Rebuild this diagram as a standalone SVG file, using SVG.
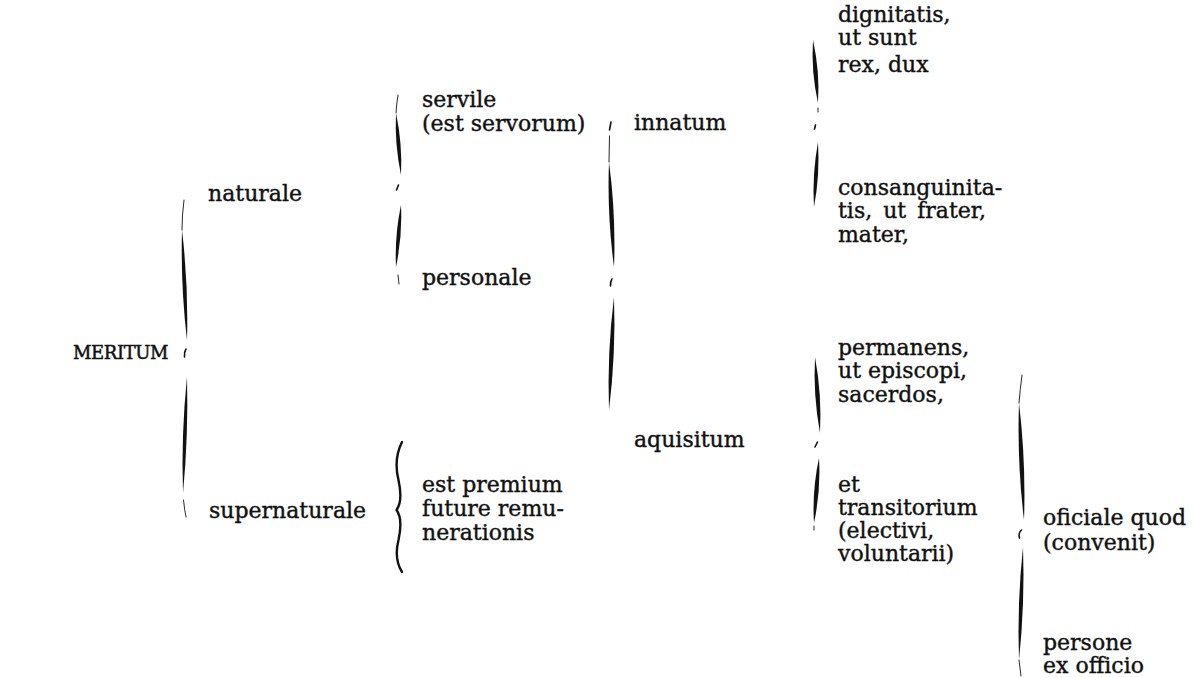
<svg xmlns="http://www.w3.org/2000/svg" width="1196" height="678" viewBox="0 0 1196 678">
<style>
text{font-family:"DejaVu Serif","Liberation Serif",serif;font-size:22px;fill:#111;stroke:#111;stroke-width:0.4}
.caps{font-size:18px;letter-spacing:-0.4px;stroke-width:0.5}
.lens{fill:#111;stroke:none}
.thin{fill:none;stroke:#111;stroke-width:0.9;stroke-linecap:round}
.tip{fill:none;stroke:#111;stroke-width:1.6;stroke-linecap:round}
.curly{fill:none;stroke:#111;stroke-width:2.4;stroke-linecap:round;stroke-linejoin:round}
</style>
<rect width="1196" height="678" fill="#fff"/>
<g id="connectors">
  <g id="brace-meritum">
    <path class="thin" d="M184,200 Q182,215 182,230"/>
    <path class="lens" d="M182,230 Q180.5,285 187,340 Q188.5,285 182,230 Z"/>
    <path class="tip" d="M186,349 Q184,352 184.5,357"/>
    <path class="lens" d="M187,377 Q188.5,435 183,493 Q181,435 187,377 Z"/>
    <path class="thin" d="M183.5,500 Q184.5,510 186,517"/>
  </g>
  <g id="brace-naturale">
    <path class="thin" d="M398,95 Q396.5,104 396,113"/>
    <path class="lens" d="M396,113 Q394.5,144 401,175 Q402.5,144 396,113 Z"/>
    <path class="tip" d="M398.5,185 L396.5,190"/>
    <path class="lens" d="M401,205 Q402.5,236 396,267 Q394.5,236 401,205 Z"/>
    <path class="thin" d="M398,275 L399,284"/>
  </g>
  <g id="brace-supernaturale">
    <path class="curly" d="M402,442 C397,452 395,466 398.5,480 C401.5,494 401,504 396.5,510 C401,516 401.5,526 398.5,540 C395,554 397,564 402,572"/>
  </g>
  <g id="brace-personale">
    <path class="tip" d="M611,122 L609.5,130"/>
    <path class="thin" d="M609.5,136 L609,162"/>
    <path class="lens" d="M609,162 Q607,215 614,267 Q616,215 609,162 Z"/>
    <path class="tip" d="M612,279 Q610,282 610.5,286"/>
    <path class="lens" d="M614,297 Q616,353 609,410 Q607,353 614,297 Z"/>
  </g>
  <g id="brace-innatum">
    <path class="lens" d="M813,40 Q811,72 818,103 Q820,72 813,40 Z"/>
    <path class="thin" d="M818,108 L818,112"/>
    <path class="tip" d="M815.5,125 L814.5,129"/>
    <path class="lens" d="M818,142 Q820,175 814,207 Q812,175 818,142 Z"/>
  </g>
  <g id="brace-aquisitum">
    <path class="lens" d="M815,357 Q813,395 820,433 Q822,395 815,357 Z"/>
    <path class="tip" d="M817.5,442 L815,447"/>
    <path class="lens" d="M819,458 Q821,490 814,523 Q812,490 819,458 Z"/>
    <path class="thin" d="M814,526 L814,530"/>
  </g>
  <g id="brace-transitorium">
    <path class="thin" d="M1022,375 Q1020,390 1019,403"/>
    <path class="lens" d="M1019,403 Q1017,462 1024,520 Q1026,462 1019,403 Z"/>
    <path class="tip" d="M1021.5,530 Q1018,533 1019.5,538"/>
    <path class="lens" d="M1023,547 Q1025,603 1019,660 Q1017,603 1023,547 Z"/>
    <path class="thin" d="M1019,660 Q1020,668 1021,676"/>
  </g>
</g>
<g id="n-meritum"><text class="caps" x="73" y="359">MERITUM</text></g>
<g id="n-naturale"><text x="208" y="201">naturale</text></g>
<g id="n-supernaturale"><text x="209" y="518">supernaturale</text></g>
<g id="n-servile"><text x="422" y="107">servile</text><text x="422" y="131">(est servorum)</text></g>
<g id="n-personale"><text x="422" y="285">personale</text></g>
<g id="n-premium"><text x="422" y="492">est premium</text><text x="422" y="516">future remu-</text><text x="422" y="540">nerationis</text></g>
<g id="n-innatum"><text x="634" y="130">innatum</text></g>
<g id="n-aquisitum"><text x="634" y="447">aquisitum</text></g>
<g id="n-dignitatis"><text x="838" y="22">dignitatis,</text><text x="838" y="45">ut sunt</text><text x="838" y="72">rex, dux</text></g>
<g id="n-consanguinitatis"><text x="838" y="195">consanguinita-</text><text x="838" y="218" word-spacing="4">tis, ut frater,</text><text x="838" y="242">mater,</text></g>
<g id="n-permanens"><text x="838" y="355">permanens,</text><text x="838" y="378">ut episcopi,</text><text x="838" y="402">sacerdos,</text></g>
<g id="n-transitorium"><text x="838" y="492">et</text><text x="838" y="515">transitorium</text><text x="838" y="538">(electivi,</text><text x="838" y="561">voluntarii)</text></g>
<g id="n-oficiale"><text x="1043" y="525">oficiale quod</text><text x="1043" y="550">(convenit)</text></g>
<g id="n-persone"><text x="1043" y="650">persone</text><text x="1043" y="673">ex officio</text></g>
</svg>
